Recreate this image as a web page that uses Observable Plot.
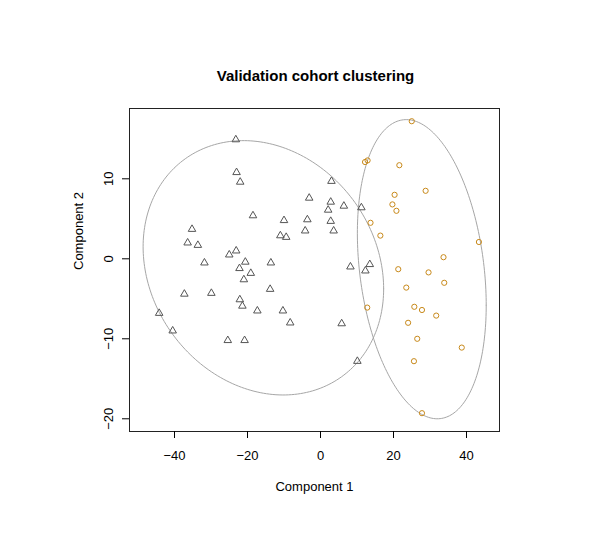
<!DOCTYPE html>
<html>
<head>
<meta charset="utf-8">
<script src="https://cdn.jsdelivr.net/npm/d3@7"></script>
<script src="https://cdn.jsdelivr.net/npm/@observablehq/plot@0.6"></script>
<style>
  html, body { margin: 0; padding: 0; background: #ffffff; }
  #chart { width: 600px; height: 534px; }
</style>
</head>
<body>
<div id="chart"></div>
<script>
// ---- Data ----
const titleText = "Validation cohort clustering";
const xLabel = "Component 1";
const yLabel = "Component 2";
const xTicks = [-40, -20, 0, 20, 40];
const yTicks = [-20, -10, 0, 10];

// Cluster 1 (triangles)
const cluster1X = [-23.2, -23.0, -22.0, -3.1, -18.5, -10.0, -3.6, -4.2, -11.0, -9.4,
  -35.2, -36.4, -33.6, -31.8, -25.0, -23.1, -20.6, -13.6, -22.2, -19.1,
  -21.0, -37.3, -29.9, -13.8, -22.1, -21.4, -17.3, -10.3, -8.3, -44.2,
  -40.5, -25.4, -20.8, 3.0, 2.8, 6.4, 2.1, 11.2, 2.8, 3.6,
  8.2, 13.5, 12.3, 5.8, 10.1];
const cluster1Y = [14.9, 10.8, 9.6, 7.6, 5.4, 4.8, 4.9, 3.5, 2.9, 2.7,
  3.7, 2.0, 1.7, -0.5, 0.5, 1.0, -0.4, -0.5, -1.2, -1.8,
  -2.6, -4.4, -4.3, -3.8, -5.1, -5.9, -6.5, -6.5, -8.0, -6.8,
  -9.0, -10.2, -10.2, 9.7, 7.1, 6.6, 6.1, 6.4, 4.7, 3.5,
  -1.0, -0.7, -1.5, -8.1, -12.8];

// Cluster 2 (circles)
const cluster2X = [25.0, 12.2, 12.9, 21.6, 28.8, 20.3, 19.7, 20.8, 13.7, 16.4,
  43.4, 33.7, 21.3, 29.6, 33.9, 23.5, 12.8, 25.7, 27.8, 31.7,
  24.0, 26.5, 38.7, 25.6, 27.8];
const cluster2Y = [17.2, 12.1, 12.3, 11.7, 8.5, 8.0, 6.8, 6.0, 4.5, 2.9,
  2.1, 0.2, -1.3, -1.7, -3.0, -3.6, -6.1, -6.0, -6.4, -7.1,
  -8.0, -10.0, -11.1, -12.8, -19.3];

// Cluster ellipses: centre and shape factors (x = cx + p cos t, y = cy + q cos t + r sin t)
const ellipseCx = [-15.65, 27.75];
const ellipseCy = [-1.125, -1.3];
const ellipseP = [32.95, 17.65];
const ellipseQ = [-2.63, -4.5];
const ellipseR = [15.68, 18.15];

// ---- Build tables ----
const cluster1 = cluster1X.map((x, i) => ({x, y: cluster1Y[i]}));
const cluster2 = cluster2X.map((x, i) => ({x, y: cluster2Y[i]}));
const ellipsePts = [];
ellipseCx.forEach((cx, k) => {
  const n = 240;
  for (let i = 0; i <= n; i++) {
    const t = (2 * Math.PI * i) / n;
    ellipsePts.push({
      id: k,
      x: cx + ellipseP[k] * Math.cos(t),
      y: ellipseCy[k] + ellipseQ[k] * Math.cos(t) + ellipseR[k] * Math.sin(t)
    });
  }
});

const font = "'Liberation Sans', Arial, Helvetica, sans-serif";

const chart = Plot.plot({
  width: 600,
  height: 534,
  marginLeft: 129,
  marginRight: 101,
  marginTop: 108,
  marginBottom: 103,
  style: { fontFamily: font, fontSize: "13px", background: "#ffffff", color: "#000" },
  x: { domain: [-52.33, 49.04] },
  y: { domain: [-21.59, 18.79] },
  marks: [
    Plot.line(ellipsePts, { x: "x", y: "y", z: "id", stroke: "#a6a6a6", strokeWidth: 1 }),
    Plot.dot(cluster1, { x: "x", y: "y", symbol: "triangle", r: 2.8, stroke: "#555555", strokeWidth: 1, fill: "none" }),
    Plot.dot(cluster2, { x: "x", y: "y", r: 2.6, stroke: "#c8891a", strokeWidth: 1, fill: "none" }),
    Plot.frame({ stroke: "#222" }),
    Plot.axisX({ ticks: xTicks, tickSize: 7, tickPadding: 12, label: null, fontSize: 13, tickFormat: d => d < 0 ? "\u2212" + Math.abs(d) : String(d) }),
    Plot.axisY({ ticks: yTicks, tickSize: 7, label: null, tickFormat: () => "" }),
    Plot.text(yTicks, { y: d => d, text: d => d < 0 ? "\u2212" + Math.abs(d) : String(d), frameAnchor: "left", dx: -20.5, rotate: -90, textAnchor: "middle", lineAnchor: "middle", fontSize: 13 }),
    Plot.text([xLabel], { frameAnchor: "bottom", dy: 55, text: d => d, lineAnchor: "middle", fontSize: 13 }),
    Plot.text([yLabel], { frameAnchor: "left", dx: -50.7, rotate: -90, text: d => d, lineAnchor: "middle", fontSize: 13 }),
    Plot.text([titleText], { frameAnchor: "top", dy: -32, dx: 1, text: d => d, lineAnchor: "middle", fontSize: 15, fontWeight: "bold" })
  ]
});
document.getElementById("chart").appendChild(chart);
</script>
</body>
</html>
